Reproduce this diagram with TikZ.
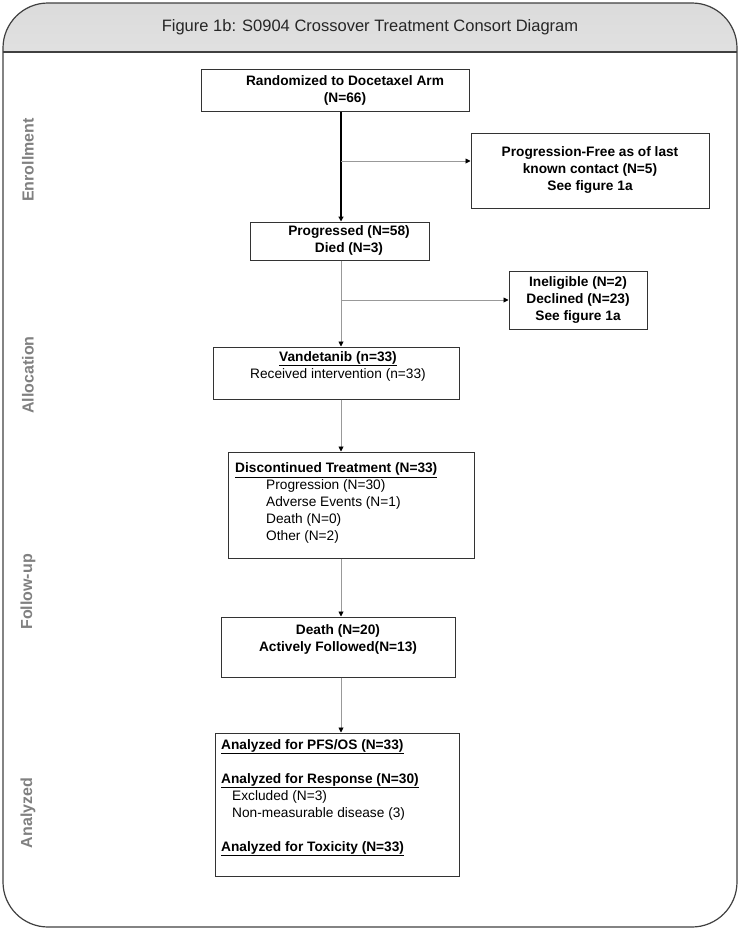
\documentclass[tikz,border=0pt]{standalone}
\usepackage{fontspec}
\setmainfont{Liberation Sans}
\usetikzlibrary{arrows.meta}
\def\outerframe{(3,3) rectangle (737,927)}
\def\spinex{341}

\begin{document}
\begin{tikzpicture}[x=1pt,y=-1pt,
  box/.style={draw=black!80,line width=1pt,inner sep=0pt},
  txt/.style={inner sep=0pt,align=left,font=\fontsize{13.7}{17}\selectfont},
  boldtxt/.style={inner sep=0pt,align=center,font=\bfseries\fontsize{13.7}{17}\selectfont},
  stage/.style={rotate=90,text=black!50,font=\bfseries\fontsize{16}{18}\selectfont},
  link/.style={draw=black!40,line width=0.9pt,-{Triangle[length=5pt,width=5pt,color=black]}}]

\useasboundingbox (0,0) rectangle (739,930);

\begin{scope}
\clip[rounded corners=45pt] \outerframe;
\shade[top color=black!14,middle color=black!1,bottom color=black!12] (3,3) rectangle (737,52);
\end{scope}
\draw[black!75,line width=1.2pt,rounded corners=45pt] \outerframe;
\draw[black!75,line width=1.2pt] (3,52) -- (737,52);

\node[font=\fontsize{16.5}{19}\selectfont,text=black!85] (title) at (370,27) {Figure 1b: S0904 Crossover Treatment Consort Diagram};

\node[stage] (enrol) at (28,160) {Enrollment};
\node[stage] (alloc) at (28,375) {Allocation};
\node[stage] (follow) at (28,592) {Follow-up};
\node[stage] (analy) at (28,813) {Analyzed};

\node[box,minimum width=268,minimum height=42] (rand) at (335,90) {};
\node[boldtxt] (randtxt) at (345,90) {Randomized to Docetaxel Arm\\(N=66)};

\node[box,minimum width=238,minimum height=75] (pfree) at (590,170.5) {};
\node[boldtxt] (pfreetxt) at (590,170) {Progression-Free as of last\\known contact (N=5)\\See figure 1a};

\node[box,minimum width=179,minimum height=38] (prog) at (339.5,241) {};
\node[boldtxt] (progtxt) at (349,240.5) {Progressed (N=58)\\Died (N=3)};

\node[box,minimum width=138,minimum height=58] (inel) at (578,300) {};
\node[boldtxt] (ineltxt) at (578,300) {Ineligible (N=2)\\Declined (N=23)\\See figure 1a};

\node[box,minimum width=246,minimum height=52] (vand) at (336,373) {};
\node[txt,align=center] (vandtxt) at (338,366) {{\bfseries\underline{Vandetanib (n=33)}}\\Received intervention (n=33)};

\node[box,minimum width=246,minimum height=106] (disc) at (351,505) {};
\node[txt,anchor=west] (disctxt) at (235,503) {{\bfseries\underline{Discontinued Treatment (N=33)}}\\
  \hspace*{31pt}Progression (N=30)\\
  \hspace*{31pt}Adverse Events (N=1)\\
  \hspace*{31pt}Death (N=0)\\
  \hspace*{31pt}Other (N=2)};

\node[box,minimum width=234,minimum height=60] (death) at (338,647) {};
\node[boldtxt] (deathtxt) at (338,639) {Death (N=20)\\Actively Followed(N=13)};

\node[box,minimum width=244,minimum height=143] (anal) at (337,804.5) {};
\node[txt,anchor=west] (analtxt) at (221,797.5) {{\bfseries\underline{Analyzed for PFS/OS (N=33)}}\\[17pt]
  {\bfseries\underline{Analyzed for Response (N=30)}}\\
  \hspace*{11pt}Excluded (N=3)\\
  \hspace*{11pt}Non-measurable disease (3)\\[17pt]
  {\bfseries\underline{Analyzed for Toxicity (N=33)}}};

\coordinate (split1) at (\spinex,161);
\coordinate (split2) at (\spinex,300);

\draw[link,draw=black,line width=1.6pt] (rand.south -| split1) -- (prog.north -| split1);
\draw[link] (split1) -- (split1 -| pfree.west);
\draw[link] (prog.south -| split2) -- (vand.north -| split2);
\draw[link] (split2) -- (split2 -| inel.west);
\draw[link] (vand.south -| split2) -- (disc.north -| split2);
\draw[link] (disc.south -| split2) -- (death.north -| split2);
\draw[link] (death.south -| split2) -- (anal.north -| split2);

\end{tikzpicture}
\end{document}
